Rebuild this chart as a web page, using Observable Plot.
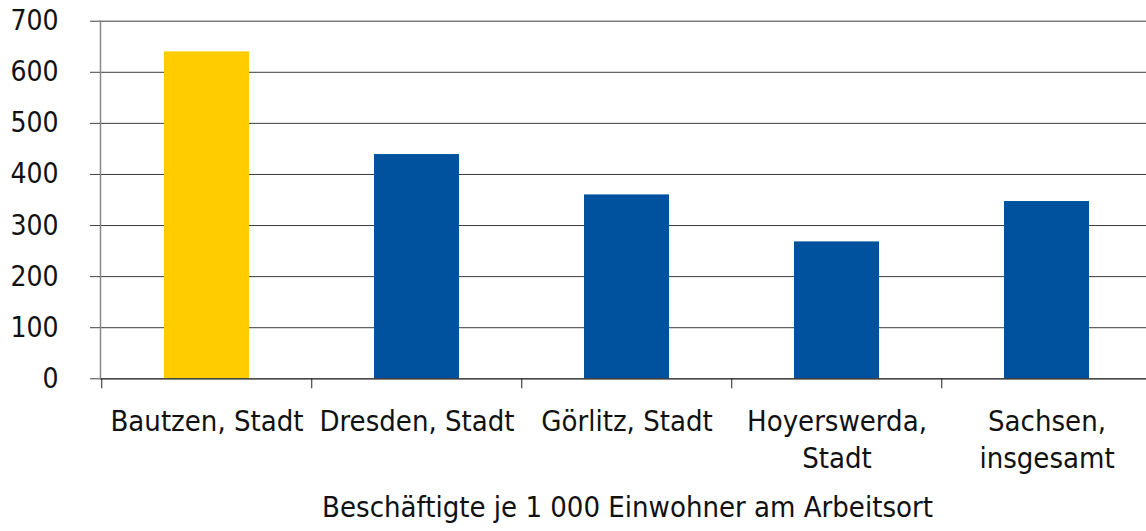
<!DOCTYPE html>
<html>
<head>
<meta charset="utf-8">
<script src="https://cdn.jsdelivr.net/npm/d3@7"></script>
<script src="https://cdn.jsdelivr.net/npm/@observablehq/plot@0.6"></script>
<style>
  html, body { margin: 0; padding: 0; background: #fff; overflow: hidden; }
  svg { display: block; }
</style>
</head>
<body>
<div id="chart"></div>
<script>
// Data
const categories = ["Bautzen, Stadt", "Dresden, Stadt", "Görlitz, Stadt", "Hoyerswerda,\nStadt", "Sachsen,\ninsgesamt"];
const values = [640, 439, 360, 268, 347];
const barColors = ["#FFCC00", "#00529E", "#00529E", "#00529E", "#00529E"];
const yTicks = [0, 100, 200, 300, 400, 500, 600, 700];
const title = "Beschäftigte je 1 000 Einwohner am Arbeitsort";

const data = categories.map((c, i) => ({category: c, value: values[i], color: barColors[i]}));

const W = 1146, H = 531;
const xLeft = 100, xRight = 1152.5;
const step = (xRight - xLeft) / categories.length;
const font = "'DejaVu Sans Condensed', 'DejaVu Sans', sans-serif";

const chart = Plot.plot({
  width: W,
  height: H,
  marginLeft: xLeft,
  marginRight: 0,
  marginTop: 20.7,
  marginBottom: 152.7,
  style: {fontFamily: font, fontSize: "29px", color: "#111", background: "#fff", fontStretch: "condensed"},
  x: {domain: categories, range: [xLeft, xRight], paddingInner: 0.596, paddingOuter: 0.298},
  y: {domain: [0, 700]},
  marks: [
    Plot.ruleY(yTicks.filter(d => d > 0), {y: d => d, stroke: "#3a3a3a", strokeWidth: 1}),
    Plot.barY(data, {x: "category", y: "value", fill: "color"}),
    Plot.ruleY([0], {stroke: "#111", strokeWidth: 1.2}),
    Plot.frame({anchor: "left", stroke: "#888", strokeWidth: 1.5}),
    Plot.axisY({ticks: yTicks, tickSize: 10, tickPadding: 32, stroke: "#444", label: null, fontSize: 28, tickFormat: d => String(d)}),
    Plot.axisX({tickSize: 10, tickFormat: () => "", dx: -step / 2, stroke: "#222", label: null}),
    Plot.axisX({tickSize: 0, tickPadding: 25, lineAnchor: "top", lineHeight: 1.3, fontSize: 29, label: null}),
    Plot.text([title], {text: d => d, frameAnchor: "bottom", dy: 128.7, dx: 4, lineAnchor: "middle", fontSize: 29, fill: "#111"})
  ]
});
document.getElementById("chart").appendChild(chart);
</script>
</body>
</html>
